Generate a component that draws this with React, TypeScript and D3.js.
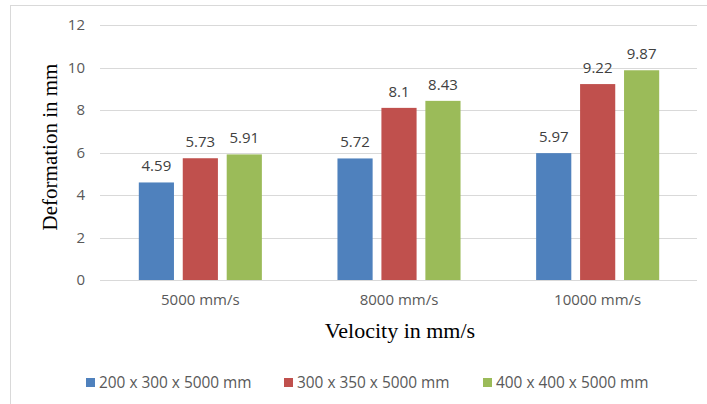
import React from "react";
import * as d3 from "d3";

const categories = ["5000 mm/s", "8000 mm/s", "10000 mm/s"];
const seriesNames = ["200 x 300 x 5000 mm", "300 x 350 x 5000 mm", "400 x 400 x 5000 mm"];
const seriesA = [4.59, 5.72, 5.97];
const seriesB = [5.73, 8.1, 9.22];
const seriesC = [5.91, 8.43, 9.87];
const seriesColors = ["#4F81BD", "#C0504D", "#9BBB59"];
const yTicks = [0, 2, 4, 6, 8, 10, 12];

const W = 707;
const H = 404;
const plot = { left: 101, right: 697, top: 25, bottom: 280 };
const sansFont = "'Open Sans', sans-serif";
const serifFont = "'Liberation Serif', 'Times New Roman', serif";

export default function App() {
  const allSeries = [seriesA, seriesB, seriesC];
  const x0 = d3.scaleBand<string>().domain(categories).range([plot.left, plot.right]).padding(0);
  const x1 = d3
    .scaleBand<string>()
    .domain(seriesNames)
    .range([0, x0.bandwidth()])
    .paddingInner(0.2)
    .paddingOuter(0.86);
  const y = d3.scaleLinear().domain([0, 12]).range([plot.bottom, plot.top]);

  const legendX = [86, 284, 483];

  return (
    <svg
      width={W}
      height={H}
      style={{ position: "absolute", left: 0, top: 0, background: "#fff" }}
    >
      <rect x={0} y={0} width={W} height={H} fill="#fff" />
      <line x1={10} x2={W} y1={5.5} y2={5.5} stroke="#D9D9D9" strokeWidth={1} />
      <line x1={10.5} x2={10.5} y1={5} y2={H} stroke="#D9D9D9" strokeWidth={1} />

      {yTicks.map((t) => (
        <g key={t}>
          <line
            x1={plot.left - 1}
            x2={plot.right}
            y1={Math.round(y(t)) + 0.5}
            y2={Math.round(y(t)) + 0.5}
            stroke="#D9D9D9"
            strokeWidth={1}
          />
          <text
            x={85}
            y={y(t)}
            dy="0.35em"
            textAnchor="end"
            fontFamily={sansFont}
            fontSize={15}
            fill="#595959"
          >
            {t}
          </text>
        </g>
      ))}

      {categories.map((c, ci) => (
        <g key={c}>
          {seriesNames.map((s, si) => {
            const v = allSeries[si][ci];
            const bx = (x0(c) ?? 0) + (x1(s) ?? 0);
            return (
              <g key={s}>
                <rect
                  x={bx}
                  y={y(v)}
                  width={x1.bandwidth()}
                  height={y(0) - y(v)}
                  fill={seriesColors[si]}
                />
                <text
                  x={bx + x1.bandwidth() / 2}
                  y={y(v) - 11}
                  textAnchor="middle"
                  fontFamily={sansFont}
                  fontSize={15}
                  fill="#404040"
                >
                  {v}
                </text>
              </g>
            );
          })}
          <text
            x={(x0(c) ?? 0) + x0.bandwidth() / 2}
            y={300}
            dy="0.35em"
            textAnchor="middle"
            fontFamily={sansFont}
            fontSize={15}
            fill="#595959"
          >
            {c}
          </text>
        </g>
      ))}

      <text
        x={400}
        y={338}
        textAnchor="middle"
        fontFamily={serifFont}
        fontSize={22}
        fill="#000"
      >
        Velocity in mm/s
      </text>
      <text
        transform={`translate(57,147) rotate(-90)`}
        textAnchor="middle"
        fontFamily={serifFont}
        fontSize={21}
        fill="#000"
      >
        Deformation in mm
      </text>

      {seriesNames.map((s, i) => (
        <g key={s}>
          <rect x={legendX[i]} y={378} width={9} height={9} fill={seriesColors[i]} />
          <text
            x={legendX[i] + 13}
            y={382.5}
            dy="0.35em"
            fontFamily={sansFont}
            fontSize={15.4}
            fill="#595959"
          >
            {s}
          </text>
        </g>
      ))}
    </svg>
  );
}
